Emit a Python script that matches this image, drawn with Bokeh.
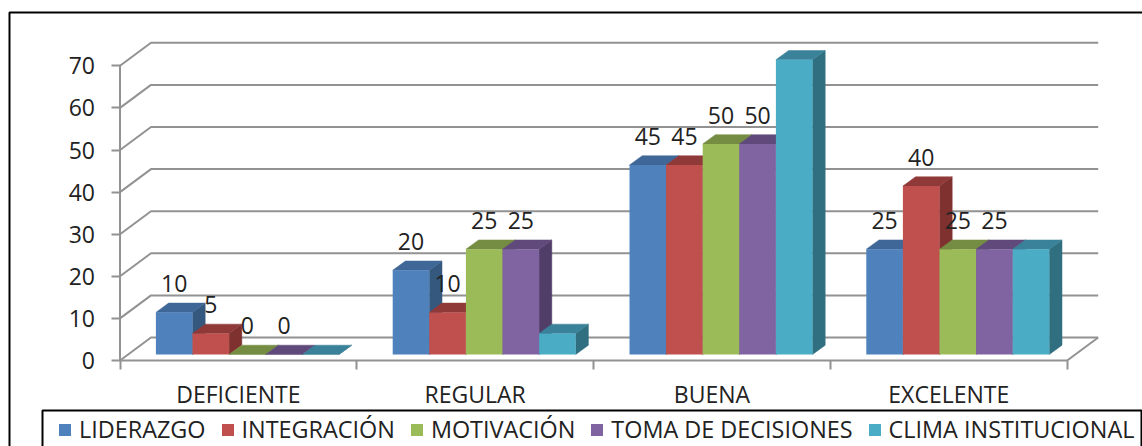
from bokeh.core.properties import value
from bokeh.embed import file_html
from bokeh.models import (BoxAnnotation, FixedTicker, Legend, LegendItem,
                          LinearAxis, Range1d)
from bokeh.plotting import figure
from bokeh.resources import INLINE

# ---- chart values ----
categories = ["DEFICIENTE", "REGULAR", "BUENA", "EXCELENTE"]
series_names = ["LIDERAZGO", "INTEGRACIÓN", "MOTIVACIÓN",
                "TOMA DE DECISIONES", "CLIMA INSTITUCIONAL"]
liderazgo = [10, 20, 45, 25]
integracion = [5, 10, 45, 40]
motivacion = [0, 25, 50, 25]
toma_decisiones = [0, 25, 50, 25]
clima_institucional = [0, 5, 70, 25]
value_ticks = [0, 10, 20, 30, 40, 50, 60, 70]

series_values = [liderazgo, integracion, motivacion, toma_decisiones,
                 clima_institucional]
series_labelled = [True, True, True, True, False]

# (front, top, side) shades for each series
shades = [("#4F81BD", "#3F6797", "#35587F"),
          ("#C0504D", "#8F3A38", "#7F312F"),
          ("#9BBB59", "#758D42", "#62793A"),
          ("#8064A2", "#604A7B", "#503D68"),
          ("#4BACC6", "#3A8299", "#306F80")]

# ---- page and plot geometry, in pixels ----
W, H = 1142, 446
ORIGIN_X, ORIGIN_Y = 119.5, 360  # where the two axes meet
PX_PER_CAT = 236.8
PX_PER_VAL = 4.21
WALL_DX, WALL_DY = 31, 23        # depth of the chart floor
LIFT_DX, LIFT_DY = 9, 6          # bars stand this far behind the front edge
BAR_DX, BAR_DY = 12.7, 9.3       # depth of a bar
BAR_W = 36.6 / PX_PER_CAT
LABEL_LIFT = 29
GREY = "#929292"
FONT = "Open Sans"
TEXT_COLOR = "#222222"
FONT_SIZE = "23px"

ux = 1 / PX_PER_CAT
uy = 1 / PX_PER_VAL

# the plot area fills the page; axes sit on fixed data positions inside it
x_range = Range1d(-ORIGIN_X * ux, (W - ORIGIN_X) * ux)
y_range = Range1d((ORIGIN_Y - H) * uy, ORIGIN_Y * uy)

p = figure(width=W, height=H, x_range=x_range, y_range=y_range,
           output_backend="svg", toolbar_location=None,
           x_axis_type=None, y_axis_type=None,
           min_border_left=0, min_border_right=0,
           min_border_top=0, min_border_bottom=0,
           outline_line_color=None, background_fill_color="white",
           border_fill_color="white")
p.grid.visible = False

n_cat = len(categories)

# axis lines
p.line([0, 0], [0, value_ticks[-1]], line_color=GREY, line_width=2)
p.line([0, n_cat], [0, 0], line_color=GREY, line_width=2)

# value axis
y_axis = LinearAxis(ticker=FixedTicker(ticks=value_ticks), fixed_location=0)
y_axis.axis_line_color = None
y_axis.major_tick_line_color = GREY
y_axis.major_tick_line_width = 2
y_axis.major_tick_in = 0
y_axis.major_tick_out = 9
y_axis.minor_tick_line_color = None
y_axis.major_label_text_font = FONT
y_axis.major_label_text_font_size = FONT_SIZE
y_axis.major_label_text_color = TEXT_COLOR
y_axis.major_label_standoff = 16
p.add_layout(y_axis, "left")

# category axis: labels at the middle of each band, ticks on the band edges
centres = [i + 0.5 for i in range(n_cat)]
edges = list(range(n_cat + 1))
x_axis = LinearAxis(ticker=FixedTicker(ticks=centres, minor_ticks=edges),
                    fixed_location=0)
x_axis.major_label_overrides = dict(zip(centres, categories))
x_axis.axis_line_color = None
x_axis.major_tick_line_color = None
x_axis.major_tick_in = 0
x_axis.major_tick_out = 0
x_axis.minor_tick_line_color = GREY
x_axis.minor_tick_line_width = 2
x_axis.minor_tick_in = 0
x_axis.minor_tick_out = 9
x_axis.major_label_text_font = FONT
x_axis.major_label_text_font_size = FONT_SIZE
x_axis.major_label_text_color = TEXT_COLOR
x_axis.major_label_standoff = 8
p.add_layout(x_axis, "below")

# receding gridlines on the back wall
wall_x = WALL_DX * ux
wall_y = WALL_DY * uy
for v in value_ticks:
    p.line([0, wall_x, n_cat + wall_x], [v, v + wall_y, v + wall_y],
           line_color=GREY, line_width=2)
# right edge of the floor
p.line([n_cat, n_cat + wall_x], [0, wall_y], line_color=GREY, line_width=2)

# extruded bars, one series at a time so later bars overlap earlier sides
legend_items = []
for s, (name, vals) in enumerate(zip(series_names, series_values)):
    front, top, side = shades[s]
    x0 = [c + LIFT_DX * ux + (1 - 5 * BAR_W) / 2 + s * BAR_W
          for c in range(n_cat)]
    x1 = [x + BAR_W for x in x0]
    y0 = LIFT_DY * uy
    ddx, ddy = BAR_DX * ux, BAR_DY * uy

    p.patches([[b, b + ddx, b + ddx, b] for b in x1],
              [[y0, y0 + ddy, y0 + v + ddy, y0 + v] for v in vals],
              fill_color=side, line_color=side, line_width=0.5)
    p.patches([[a, a + ddx, b + ddx, b] for a, b in zip(x0, x1)],
              [[y0 + v, y0 + v + ddy, y0 + v + ddy, y0 + v] for v in vals],
              fill_color=top, line_color=top, line_width=0.5)
    r = p.quad(left=x0, right=x1, bottom=y0, top=[y0 + v for v in vals],
               fill_color=front, line_color=None)
    legend_items.append(LegendItem(label=name, renderers=[r]))

# value labels above the bars
for s, vals in enumerate(series_values):
    if not series_labelled[s]:
        continue
    xs = [c + LIFT_DX * ux + (1 - 5 * BAR_W) / 2 + (s + 0.5) * BAR_W
          for c in range(n_cat)]
    ys = [LIFT_DY * uy + v + LABEL_LIFT * uy for v in vals]
    p.text(xs, ys, text=[str(v) for v in vals], text_align="center",
           text_baseline="middle", text_font=value(FONT),
           text_font_size=FONT_SIZE, text_color=TEXT_COLOR)

legend = Legend(items=legend_items, orientation="horizontal",
                location=(51, 1), margin=0, padding=8,
                spacing=14, glyph_width=15, glyph_height=15,
                label_standoff=7, background_fill_alpha=0,
                border_line_color=None,
                label_text_font=FONT, label_text_font_size="23.4px",
                label_text_color=TEXT_COLOR, label_height=20)
legend.location = (57, 1)
p.add_layout(legend, "center")

# outer chart border and legend border, open past the page edges
for l, t, r_ in [(9, 12, W + 20), (42, 410, W - 1)]:
    p.add_layout(BoxAnnotation(left=l, right=r_, top=H - t, bottom=-20,
                               left_units="screen", right_units="screen",
                               top_units="screen", bottom_units="screen",
                               fill_alpha=0, line_color="black",
                               line_alpha=1, line_width=2))

open("out.html", "w").write(file_html(p, INLINE))
